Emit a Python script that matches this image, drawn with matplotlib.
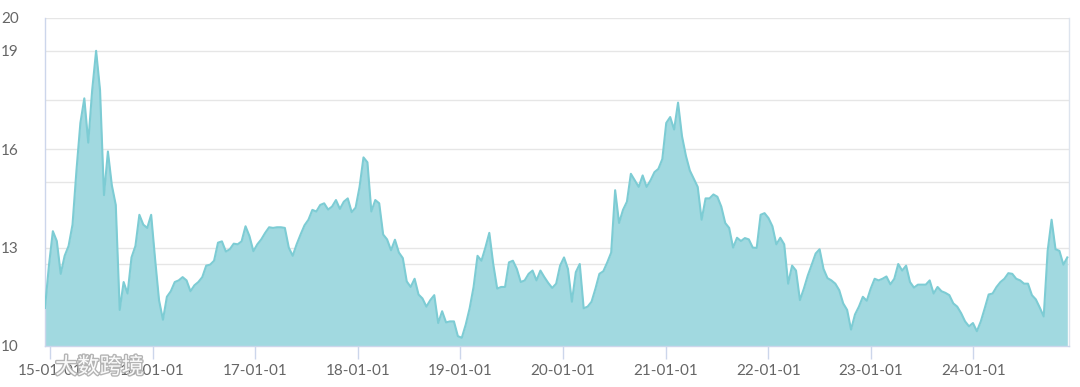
import matplotlib
matplotlib.use("Agg")
import matplotlib.pyplot as plt
import matplotlib.patheffects as pe
import pandas as pd

# ---- data ----
start_date = "2014-12-14"
step = "14D"
values = [
    11.16, 12.45, 13.5, 13.2, 12.2, 12.75, 13.05, 13.7, 15.35, 16.8,
    17.55, 16.2, 17.8, 19.0, 17.8, 14.6, 15.93, 14.9, 14.3, 11.1,
    11.95, 11.6, 12.7, 13.05, 14.0, 13.7, 13.6, 14.0, 12.65, 11.4,
    10.8, 11.5, 11.67, 11.95, 12.0, 12.1, 12.0, 11.67, 11.85, 11.95,
    12.1, 12.45, 12.48, 12.6, 13.15, 13.19, 12.88, 12.95, 13.12, 13.1,
    13.19, 13.65, 13.35, 12.89, 13.1, 13.25, 13.45, 13.62, 13.6, 13.62,
    13.62, 13.6, 13.0, 12.75, 13.1, 13.4, 13.68, 13.85, 14.15, 14.1,
    14.3, 14.35, 14.16, 14.25, 14.45, 14.18, 14.4, 14.5, 14.08, 14.22,
    14.85, 15.75, 15.6, 14.1, 14.45, 14.35, 13.4, 13.25, 12.92, 13.24,
    12.85, 12.68, 11.97, 11.8, 12.05, 11.57, 11.45, 11.2, 11.4, 11.55,
    10.7, 11.06, 10.72, 10.75, 10.75, 10.3, 10.25, 10.65, 11.15, 11.8,
    12.75, 12.6, 13.0, 13.45, 12.5, 11.75, 11.8, 11.8, 12.55, 12.6,
    12.35, 11.95, 12.0, 12.2, 12.3, 12.0, 12.3, 12.1, 11.92, 11.77,
    11.9, 12.45, 12.7, 12.35, 11.35, 12.25, 12.5, 11.15, 11.2, 11.35,
    11.75, 12.2, 12.28, 12.55, 12.85, 14.75, 13.75, 14.15, 14.4, 15.25,
    15.05, 14.85, 15.2, 14.85, 15.05, 15.3, 15.4, 15.7, 16.8, 16.98,
    16.6, 17.42, 16.4, 15.8, 15.35, 15.1, 14.85, 13.85, 14.5, 14.5,
    14.62, 14.55, 14.25, 13.75, 13.6, 13.0, 13.3, 13.2, 13.29, 13.25,
    13.0, 12.99, 14.0, 14.05, 13.9, 13.65, 13.1, 13.3, 13.1, 11.9,
    12.45, 12.3, 11.4, 11.75, 12.15, 12.48, 12.82, 12.95, 12.35, 12.07,
    12.0, 11.9, 11.7, 11.3, 11.1, 10.5, 10.96, 11.2, 11.5, 11.38,
    11.75, 12.05, 12.0, 12.05, 12.12, 11.88, 12.05, 12.5, 12.3, 12.45,
    11.95, 11.78, 11.87, 11.87, 11.87, 12.0, 11.6, 11.8, 11.67, 11.62,
    11.55, 11.3, 11.2, 11.0, 10.75, 10.6, 10.7, 10.45, 10.75, 11.15,
    11.57, 11.6, 11.8, 11.95, 12.05, 12.22, 12.2, 12.05, 12.0, 11.9,
    11.9, 11.55, 11.42, 11.17, 10.9, 12.9, 13.85, 12.95, 12.9, 12.48,
    12.7,
]
ytick_values = [10, 13, 16, 19, 20]
extra_grid_values = [12.5, 15, 17.5]
xtick_dates = ["2015-01-01", "2016-01-01", "2017-01-01", "2018-01-01", "2019-01-01",
               "2020-01-01", "2021-01-01", "2022-01-01", "2023-01-01", "2024-01-01"]
xtick_labels = ["15-01-01", "16-01-01", "17-01-01", "18-01-01", "19-01-01",
                "20-01-01", "21-01-01", "22-01-01", "23-01-01", "24-01-01"]
x_start = "2014-12-14"
x_end = "2024-12-07"
watermark = "大数跨境"

dates = pd.date_range(start=start_date, periods=len(values), freq=step)

# ---- style ----
fill_color = "#a1d9e0"
line_color = "#7dccd4"
grid_color = "#e6e6e6"
axis_color = "#ccd6eb"
label_color = "#666666"

fig = plt.figure(figsize=(10.8, 3.87), dpi=100)
ax = fig.add_axes([45 / 1080, 1 - 346 / 387, (1069 - 45) / 1080, (346 - 18) / 387])

ax.fill_between(dates, 10, values, color=fill_color, linewidth=0, zorder=2)
ax.plot(dates, values, color=line_color, linewidth=1.5, zorder=3)

ax.set_ylim(10, 20)
ax.set_xlim(pd.Timestamp(x_start), pd.Timestamp(x_end))

ax.set_yticks(ytick_values)
ax.set_yticklabels([str(v) for v in ytick_values])
for v in ytick_values[1:] + extra_grid_values:
    ax.axhline(v, color=grid_color, linewidth=1, zorder=1)

ax.set_xticks([pd.Timestamp(d) for d in xtick_dates])
ax.set_xticklabels(xtick_labels)

ax.spines["top"].set_visible(False)
ax.spines["left"].set_color(axis_color)
ax.spines["bottom"].set_color(axis_color)
ax.spines["right"].set_color("#dde4ee")
for s in ["left", "bottom", "right"]:
    ax.spines[s].set_linewidth(1)

ax.tick_params(axis="y", length=0, pad=19, labelsize=11, labelcolor=label_color)
ax.tick_params(axis="x", length=9, width=1, color=axis_color, pad=4,
               labelsize=11, labelcolor=label_color)
for lab in ax.get_xticklabels() + ax.get_yticklabels():
    lab.set_fontfamily("Lato")

fig.text(55 / 1080, 1 - 367 / 387, watermark, fontsize=16, color="white",
         family=["Noto Sans CJK SC", "DejaVu Sans"], va="center", ha="left", alpha=0.95,
         path_effects=[pe.withStroke(linewidth=2, foreground="#b0b0b0")])

fig.savefig("out.png", dpi=100, facecolor="white")
